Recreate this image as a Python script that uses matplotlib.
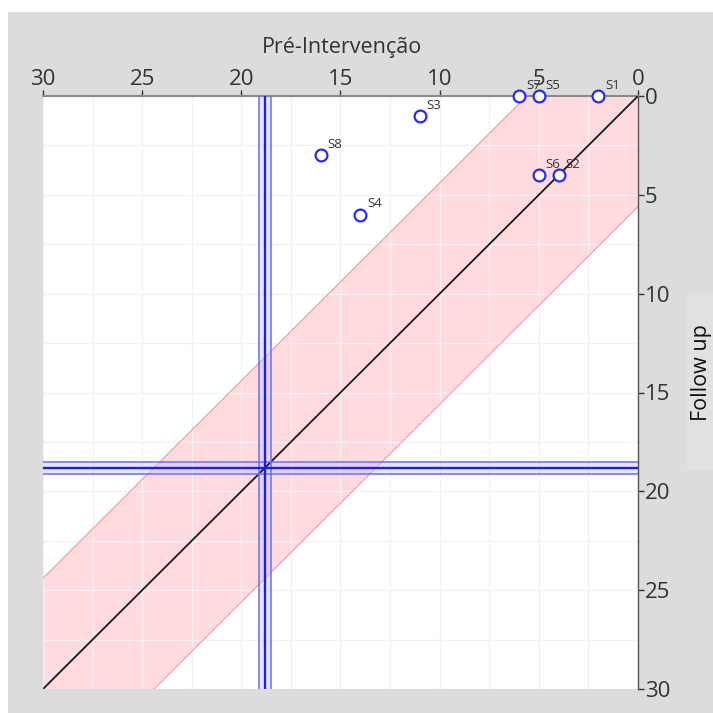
import matplotlib
matplotlib.use("Agg")
import matplotlib.pyplot as plt
from matplotlib.patches import Rectangle
import numpy as np

# Participant scores
labels = ["S1", "S2", "S3", "S4", "S5", "S6", "S7", "S8"]
pre = [2, 4, 11, 14, 5, 5, 6, 16]
follow = [0, 4, 1, 6, 0, 4, 0, 3]

# Clinical cut-off and reliable change index
cutoff = 18.8
cutoff_band = 0.3
rci = 5.6

axis_max = 30
ticks = [0, 5, 10, 15, 20, 25, 30]

plt.rcParams['font.family'] = ['Open Sans', 'DejaVu Sans']

fig = plt.figure(figsize=(7.13, 7.13), dpi=100)
fig.patch.set_facecolor("white")
fig.patches.append(Rectangle((8 / 713, 0), 1, 1 - 12 / 713, transform=fig.transFigure,
                             facecolor="#dcdcdc", edgecolor="none", zorder=-10))
fig.patches.append(Rectangle((687 / 713, 1 - 470 / 713), 26 / 713, 175 / 713,
                             transform=fig.transFigure, facecolor="#e1e1e1",
                             edgecolor="none", zorder=-9))

ax = fig.add_axes([43 / 713, 1 - 689 / 713, 595 / 713, 593 / 713])
ax.set_facecolor("white")

ax.set_xlim(axis_max, 0)
ax.set_ylim(axis_max, 0)

# Grid every 2.5 units
ax.set_xticks(ticks)
ax.set_yticks(ticks)
ax.set_xticks(np.arange(0, axis_max + 0.1, 2.5), minor=True)
ax.set_yticks(np.arange(0, axis_max + 0.1, 2.5), minor=True)
ax.grid(True, which="both", color="#f2f2f2", linewidth=1.0, zorder=0)
ax.tick_params(which="minor", length=0)

# Reliable change band around the identity line
xs = np.array([0, axis_max])
ax.fill_between(xs, xs - rci, xs + rci, color="#ffd6dc", alpha=0.9, zorder=1, linewidth=0)
ax.plot(xs, xs - rci, color="#f4a0a8", linewidth=0.9, zorder=2)
ax.plot(xs, xs + rci, color="#f4a0a8", linewidth=0.9, zorder=2)
ax.plot(xs, xs, color="#1a1a1a", linewidth=1.3, zorder=3)

# Cut-off lines
blue = "#1f1fe0"
ax.axvspan(cutoff - cutoff_band, cutoff + cutoff_band, color="#c8c8ff", alpha=0.45, zorder=2, linewidth=0)
ax.axhspan(cutoff - cutoff_band, cutoff + cutoff_band, color="#c8c8ff", alpha=0.45, zorder=2, linewidth=0)
for off in (-cutoff_band, cutoff_band):
    ax.axvline(cutoff + off, color="#6e6ef0", linewidth=1.1, zorder=3)
    ax.axhline(cutoff + off, color="#6e6ef0", linewidth=1.1, zorder=3)
ax.axvline(cutoff, color=blue, linewidth=1.7, zorder=4)
ax.axhline(cutoff, color=blue, linewidth=1.7, zorder=4)

# Participants
ax.plot(pre, follow, linestyle="none", marker="o", markersize=8.5,
        markerfacecolor="white", markeredgecolor="#2a2af0", markeredgewidth=1.6,
        zorder=6, clip_on=False)
for lab, x, y in zip(labels, pre, follow):
    ax.annotate(lab, (x, y), xytext=(5, 3), textcoords="offset points",
                fontsize=9.5, color="#333333", zorder=7, annotation_clip=False,
                va="bottom")

# Axes styling
ax.xaxis.tick_top()
ax.xaxis.set_label_position("top")
ax.yaxis.tick_right()
ax.yaxis.set_label_position("right")
for side in ("left", "bottom"):
    ax.spines[side].set_visible(False)
ax.spines["top"].set_color("#8a8a8a")
ax.spines["top"].set_linewidth(1.5)
ax.spines["right"].set_color("#555555")
ax.spines["right"].set_linewidth(1.0)
ax.tick_params(axis="x", which="major", length=4, width=1, colors="#333333",
               labelsize=16, pad=0)
ax.tick_params(axis="y", which="major", length=4, width=1, colors="#333333",
               labelsize=16, pad=1)

ax.set_xlabel("Pré-Intervenção", fontsize=15.5, color="#333333")
ax.xaxis.set_label_coords(0.503, 1.081)
ax.xaxis.label.set_va("center")
ax.set_ylabel("Follow up", fontsize=15.5, color="#111111")
ax.yaxis.set_label_coords(1.107, 0.533)
ax.yaxis.label.set_va("center")

fig.savefig("out.png", dpi=100, facecolor=fig.get_facecolor())
